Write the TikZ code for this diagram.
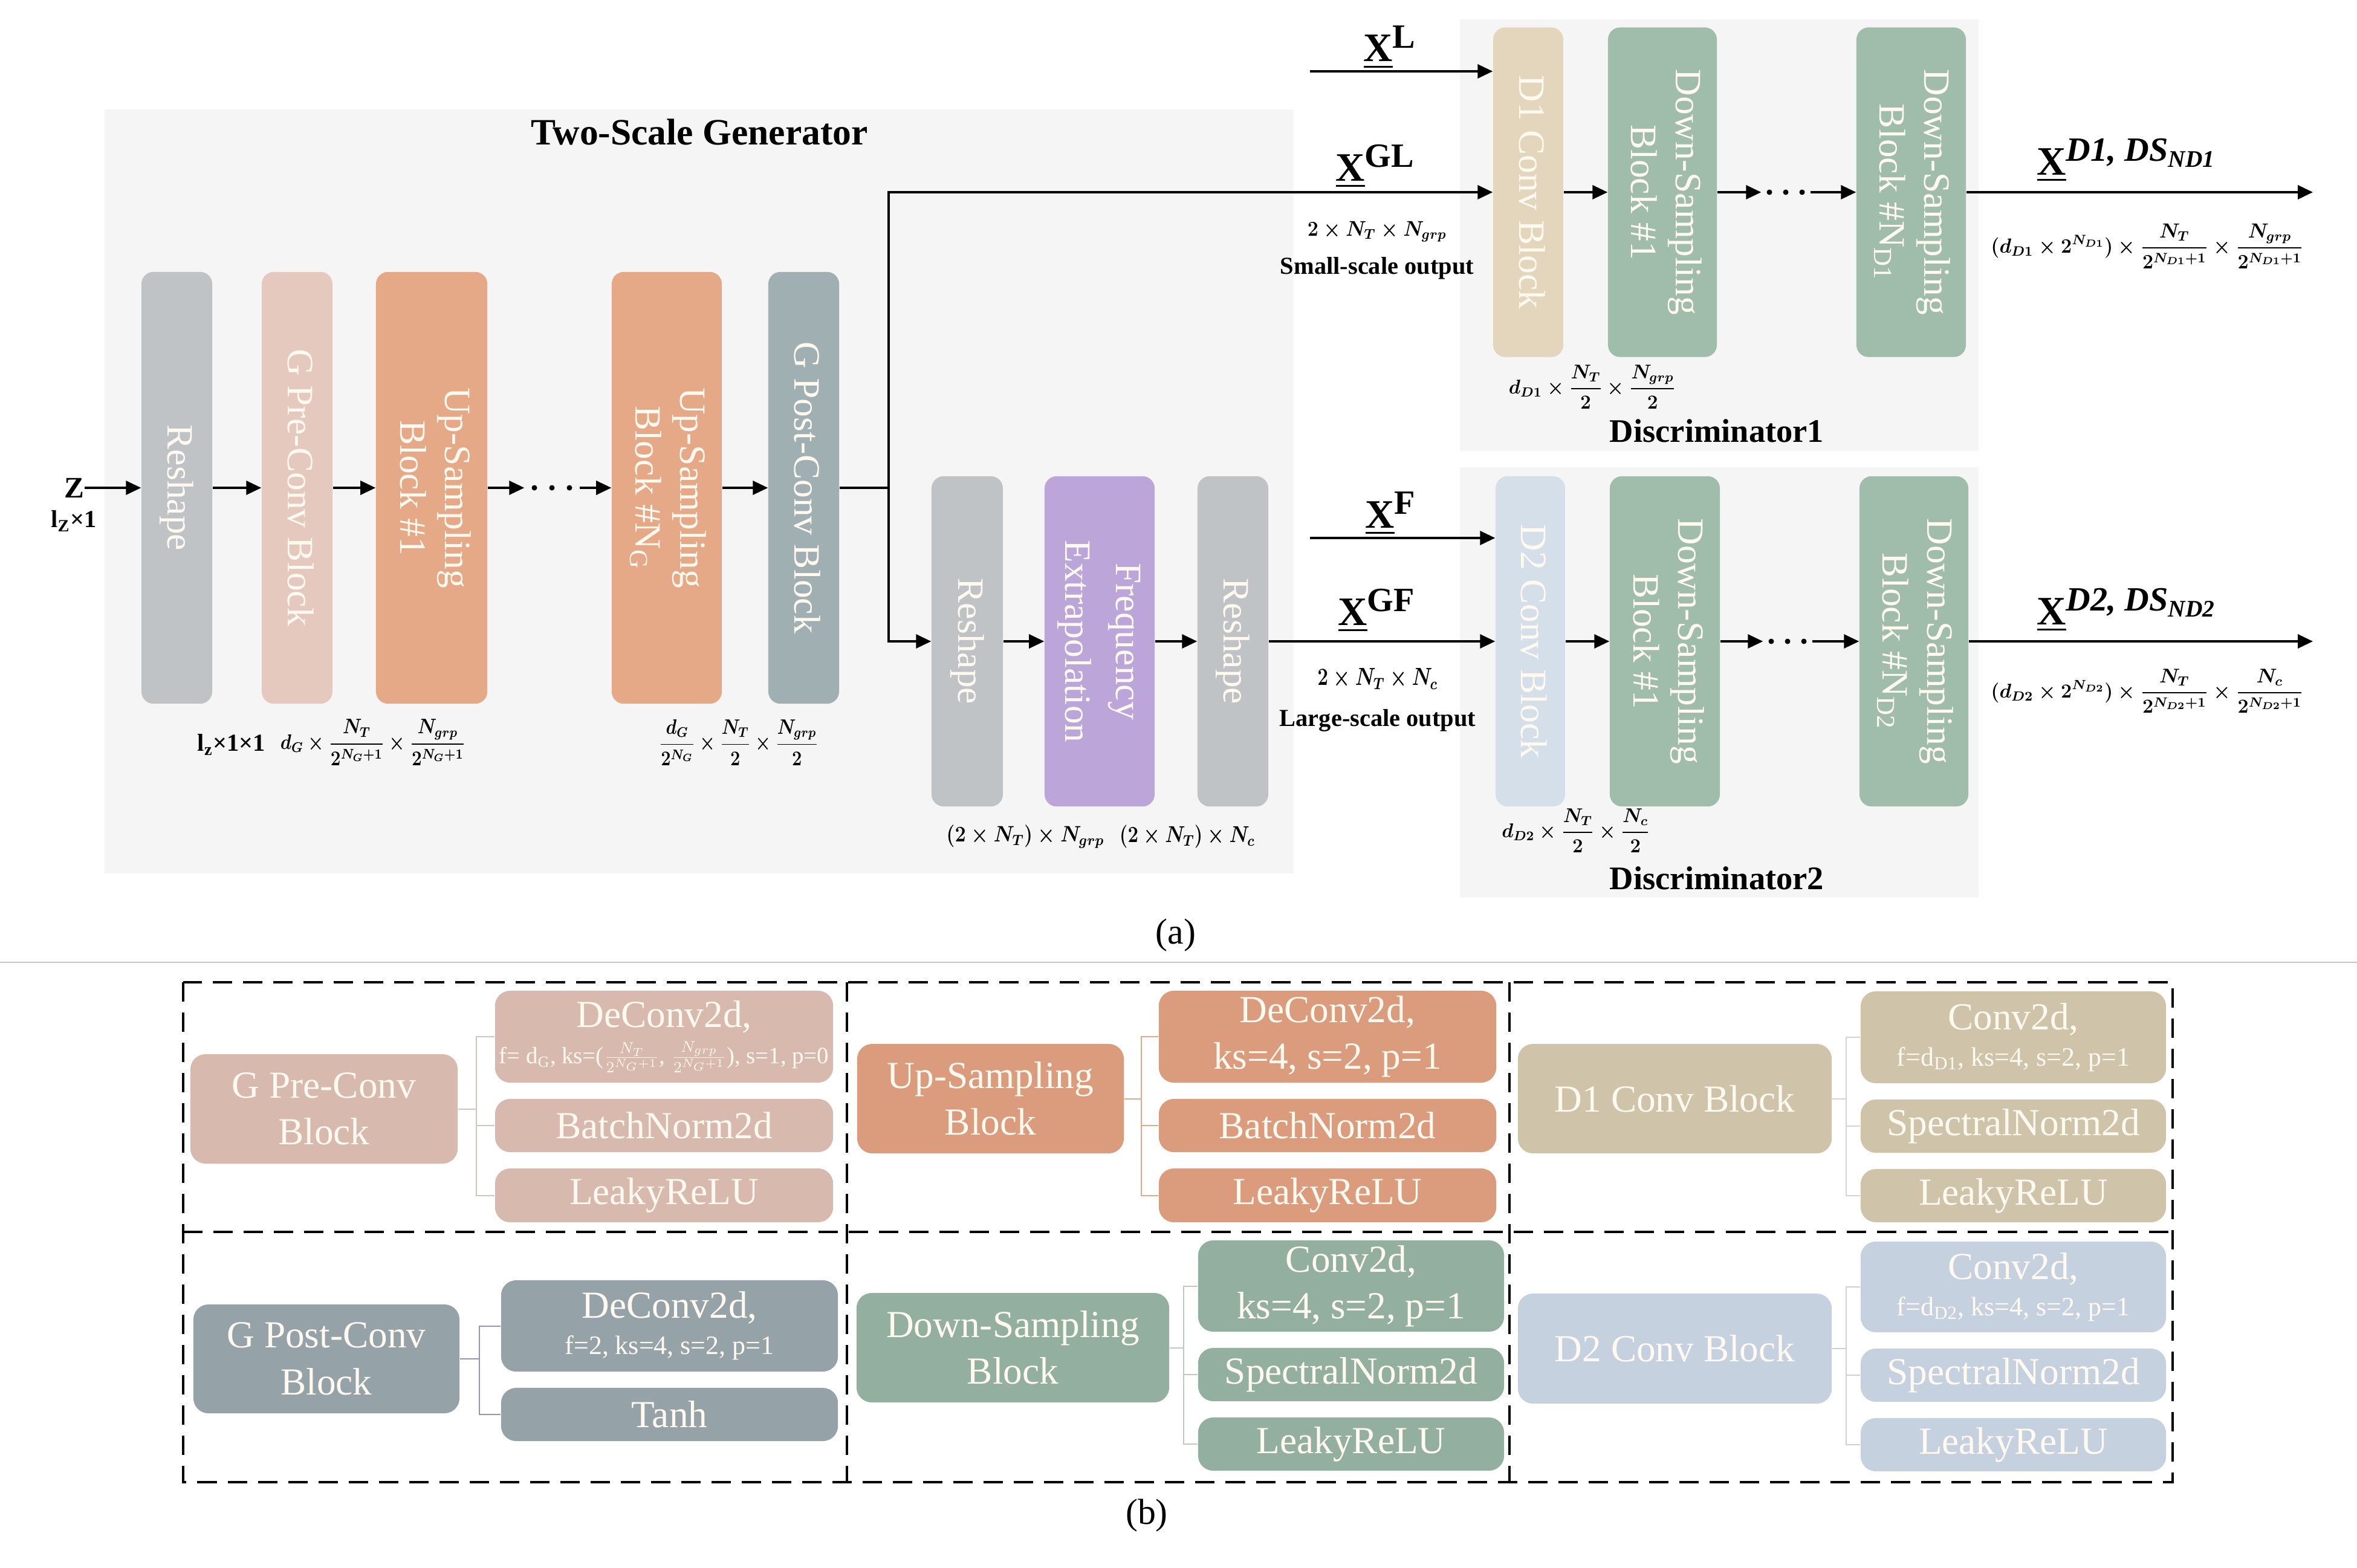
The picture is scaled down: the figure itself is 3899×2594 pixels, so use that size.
\documentclass[tikz,border=0pt]{standalone}
\usepackage{amsmath}
\usepackage{fontspec}
\setmainfont{Liberation Serif}
\usepackage{graphicx}
\usetikzlibrary{arrows.meta}

\definecolor{bgc}{HTML}{F5F5F5}
\definecolor{cRes}{HTML}{BFC3C6}
\definecolor{cPre}{HTML}{E5C8BE}
\definecolor{cUp}{HTML}{E6A987}
\definecolor{cPost}{HTML}{A0AFB2}
\definecolor{cFreq}{HTML}{BBA5D9}
\definecolor{cDa}{HTML}{E3D6BD}
\definecolor{cDS}{HTML}{A0BDAC}
\definecolor{cDb}{HTML}{D4DFEA}
\definecolor{bPre}{HTML}{D8B9AE}
\definecolor{bUp}{HTML}{DA9C7C}
\definecolor{bDa}{HTML}{CFC3A9}
\definecolor{bPost}{HTML}{95A3A9}
\definecolor{bDS}{HTML}{93AF9F}
\definecolor{bDb}{HTML}{C6D1DF}
\definecolor{lPre}{HTML}{D5C3BD}
\definecolor{lUp}{HTML}{E3A889}
\definecolor{lDa}{HTML}{D3D3CF}
\definecolor{lPost}{HTML}{8F95C0}
\definecolor{lDS}{HTML}{BCC8C0}
\definecolor{lDb}{HTML}{CDD0D5}
\definecolor{txtc}{HTML}{FFF9F0}

\newcommand\vtext[1]{\rotatebox{-90}{\begin{tabular}{@{}c@{}}#1\end{tabular}}}
\newcommand\fitm[3]{\resizebox*{#1}{#2}{$\displaystyle #3$}}

\begin{document}
\begin{tikzpicture}[x=0.01cm,y=-0.01cm,
  vbox/.style={rounded corners=0.2cm, inner sep=0pt, text=txtc, font=\fontsize{17.5}{21}\selectfont},
  bbox/.style={rounded corners=0.25cm, inner sep=0pt, text=txtc, align=center, font=\fontsize{18}{22}\selectfont},
  arr/.style={line width=0.035cm, -{Triangle[length=0.25cm,width=0.23cm]}},
  ln/.style={line width=0.035cm},
  lbl/.style={inner sep=0pt, font=\fontsize{12}{14}\selectfont\boldmath},
  tlbl/.style={inner sep=0pt, font=\fontsize{11.5}{14}\selectfont\bfseries},
  xlab/.style={inner sep=0pt, font=\fontsize{19}{19}\selectfont\bfseries\boldmath},
  dotn/.style={inner sep=0pt, minimum height=0.1cm},
  bl/.style={line width=0.02cm},
  dashb/.style={line width=0.035cm, dash pattern=on 0.32cm off 0.18cm},
]
\useasboundingbox (0,0) rectangle (3899,2594);

% ---------- backgrounds ----------
\fill[bgc] (173,181) rectangle (2140,1445);
\fill[bgc] (2415,32) rectangle (3273,746);
\fill[bgc] (2415,773) rectangle (3273,1485);

\node[inner sep=0pt, font=\fontsize{17.5}{20}\selectfont\bfseries, anchor=base] (title) at (1157,239) {Two-Scale Generator};

% ---------- generator top row ----------
\node[vbox, fill=cRes,  minimum width=1.17cm, minimum height=7.14cm] (res1) at (292.5,807) {\vtext{Reshape}};
\node[vbox, fill=cPre,  minimum width=1.17cm, minimum height=7.14cm] (pre)  at (491.5,807) {\vtext{G Pre-Conv Block}};
\node[vbox, fill=cUp,   minimum width=1.84cm, minimum height=7.14cm] (up1)  at (714,807)   {\vtext{Up-Sampling\\Block \#1}};
\node[vbox, fill=cUp,   minimum width=1.82cm, minimum height=7.14cm] (upN)  at (1103,807)  {\vtext{Up-Sampling\\Block \#N\textsubscript{G}}};
\node[vbox, fill=cPost, minimum width=1.17cm, minimum height=7.14cm] (post) at (1329.5,807) {\vtext{G Post-Conv Block}};

% ---------- generator lower branch ----------
\node[vbox, fill=cRes,  minimum width=1.18cm, minimum height=5.46cm] (res2) at (1600,1061) {\vtext{Reshape}};
\node[vbox, fill=cFreq, minimum width=1.82cm, minimum height=5.46cm] (freq) at (1819,1061) {\vtext{Frequency\\[3pt]Extrapolation}};
\node[vbox, fill=cRes,  minimum width=1.17cm, minimum height=5.46cm] (res3) at (2039.5,1061) {\vtext{Reshape}};

% ---------- discriminator 1 ----------
\node[vbox, fill=cDa, minimum width=1.16cm, minimum height=5.45cm] (d1c)  at (2528,318)   {\vtext{D1 Conv Block}};
\node[vbox, fill=cDS, minimum width=1.80cm, minimum height=5.45cm] (ds11) at (2750,318)   {\vtext{Down-Sampling\\Block \#1}};
\node[vbox, fill=cDS, minimum width=1.81cm, minimum height=5.45cm] (ds1N) at (3161.5,318) {\vtext{Down-Sampling\\Block \#N\textsubscript{D1}}};

% ---------- discriminator 2 ----------
\node[vbox, fill=cDb, minimum width=1.15cm, minimum height=5.46cm] (d2c)  at (2531.5,1061) {\vtext{D2 Conv Block}};
\node[vbox, fill=cDS, minimum width=1.82cm, minimum height=5.46cm] (ds21) at (2754,1061)   {\vtext{Down-Sampling\\Block \#1}};
\node[vbox, fill=cDS, minimum width=1.80cm, minimum height=5.46cm] (ds2N) at (3166,1061)   {\vtext{Down-Sampling\\Block \#N\textsubscript{D2}}};

% ---------- dots ----------
\node[dotn, minimum width=0.9cm] (gd) at (913,807) {};
\node[dotn, minimum width=0.8cm] (dd1) at (2954,318) {};
\node[dotn, minimum width=0.8cm] (dd2) at (2957,1061) {};
\foreach \dx in {-29,0,29} \fill ([xshift=\dx*0.01cm]gd.center) circle (0.045cm);
\foreach \dx in {-27,0,27} {
  \fill ([xshift=\dx*0.01cm]dd1.center) circle (0.045cm);
  \fill ([xshift=\dx*0.01cm]dd2.center) circle (0.045cm);
}

% ---------- input / connectors ----------
\node[inner sep=0pt, font=\fontsize{14}{14}\selectfont\bfseries] (z) at (123,807) {Z};
\node[tlbl] (lz) at (122,862) {l\textsubscript{Z}×1};
\draw[arr] (z.east) -- (res1.west);
\draw[arr] (res1.east) -- (pre.west);
\draw[arr] (pre.east) -- (up1.west);
\draw[arr] (up1.east) -- (gd.west);
\draw[arr] (gd.east) -- (upN.west);
\draw[arr] (upN.east) -- (post.west);
\coordinate (br) at (1470,807);
\draw[ln] (post.east) -- (br);
\draw[arr] (br) |- (d1c.west);
\draw[arr] (br) |- (res2.west);
\draw[arr] (res2.east) -- (freq.west);
\draw[arr] (freq.east) -- (res3.west);
\draw[arr] (res3.east) -- (d2c.west);

\coordinate (xl) at (2167,118);
\draw[arr] (xl) -- (xl -| d1c.west);
\coordinate (xf) at (2167,890);
\draw[arr] (xf) -- (xf -| d2c.west);

\draw[arr] (d1c.east) -- (ds11.west);
\draw[arr] (ds11.east) -- (dd1.west);
\draw[arr] (dd1.east) -- (ds1N.west);
\coordinate (o1) at (3826,318);
\draw[arr] (ds1N.east) -- (o1);

\draw[arr] (d2c.east) -- (ds21.west);
\draw[arr] (ds21.east) -- (dd2.west);
\draw[arr] (dd2.east) -- (ds2N.west);
\coordinate (o2) at (3826,1061);
\draw[arr] (ds2N.east) -- (o2);

% ---------- X labels ----------
\node[xlab, anchor=base west] (lxl)  at (2255,102)  {\underline{X}\raisebox{0.33em}{\fontsize{16}{16}\selectfont L}};
\node[xlab, anchor=base west] (lxgl) at (2209,299)  {\underline{X}\raisebox{0.33em}{\fontsize{16}{16}\selectfont GL}};
\node[xlab, anchor=base west] (lxf)  at (2258,873)  {\underline{X}\raisebox{0.33em}{\fontsize{16}{16}\selectfont F}};
\node[xlab, anchor=base west] (lxgf) at (2213,1034) {\underline{X}\raisebox{0.33em}{\fontsize{16}{16}\selectfont GF}};
\node[xlab, anchor=base west] (lxo1) at (3369,289)  {\underline{X}\raisebox{0.33em}{\fontsize{16}{16}\selectfont\itshape D1, DS\textsubscript{ND1}}};
\node[xlab, anchor=base west] (lxo2) at (3369,1033) {\underline{X}\raisebox{0.33em}{\fontsize{16}{16}\selectfont\itshape D2, DS\textsubscript{ND2}}};

% ---------- dimension labels ----------
\node[tlbl] (l1) at (383,1232) {l\textsubscript{z}×1×1};
\node[lbl] (l2) at (617,1228) {\fitm{3.06cm}{0.76cm}{d_G\times\frac{N_T}{2^{N_G+1}}\times\frac{N_{grp}}{2^{N_G+1}}}};
\node[lbl] (l3) at (1222,1228) {\fitm{2.63cm}{0.76cm}{\frac{d_G}{2^{N_G}}\times\frac{N_T}{2}\times\frac{N_{grp}}{2}}};
\node[lbl] (l4) at (1696,1384) {\fitm{2.61cm}{0.38cm}{(2\times N_T)\times N_{grp}}};
\node[lbl] (l5) at (1964,1384) {\fitm{2.24cm}{0.38cm}{(2\times N_T)\times N_c}};
\node[lbl] (l6) at (2278,383) {\fitm{2.30cm}{0.34cm}{2\times N_T\times N_{grp}}};
\node[tlbl] (l7) at (2278,444) {Small-scale output};
\node[lbl] (l8) at (2279,1123) {\fitm{1.99cm}{0.34cm}{2\times N_T\times N_c}};
\node[tlbl] (l9) at (2279,1192) {Large-scale output};
\node[lbl] (l10) at (2634,640) {\fitm{2.76cm}{0.72cm}{d_{D1}\times\frac{N_T}{2}\times\frac{N_{grp}}{2}}};
\node[lbl] (l11) at (2607,1374) {\fitm{2.45cm}{0.72cm}{d_{D2}\times\frac{N_T}{2}\times\frac{N_c}{2}}};
\node[lbl] (l12) at (3552,407) {\fitm{5.17cm}{0.74cm}{(d_{D1}\times 2^{N_{D1}})\times\frac{N_T}{2^{N_{D1}+1}}\times\frac{N_{grp}}{2^{N_{D1}+1}}}};
\node[lbl] (l13) at (3552,1143) {\fitm{5.17cm}{0.72cm}{(d_{D2}\times 2^{N_{D2}})\times\frac{N_T}{2^{N_{D2}+1}}\times\frac{N_c}{2^{N_{D2}+1}}}};
\node[inner sep=0pt, font=\fontsize{15.5}{18}\selectfont\bfseries, anchor=base] (disc1) at (2840,731) {Discriminator1};
\node[inner sep=0pt, font=\fontsize{15.5}{18}\selectfont\bfseries, anchor=base] (disc2) at (2840,1471) {Discriminator2};

\node[inner sep=0pt, font=\fontsize{17}{20}\selectfont] (capa) at (1945,1547) {(a)};
\draw[gray!45, line width=0.02cm] (0,1592) -- (3899,1592);

% ---------- part (b) ----------
\draw[dashb] (303,1625) rectangle (3594,2452);
\draw[dashb] (303,2038) -- (3594,2038);
\draw[dashb] (1401,1625) -- (1401,2452);
\draw[dashb] (2497,1625) -- (2497,2452);

% cell 1: G Pre-Conv
\node[bbox, fill=bPre, minimum width=4.42cm, minimum height=1.81cm] (bpre) at (536,1834.5) {G Pre-Conv\\Block};
\node[bbox, fill=bPre, minimum width=5.59cm, minimum height=1.52cm] (bpre1) at (1098.5,1715) {DeConv2d,\\[-5pt]\resizebox{5.45cm}{!}{\fontsize{12}{14}\selectfont f= d\textsubscript{G}, ks=($\frac{N_T}{2^{N_G+1}}$, $\frac{N_{grp}}{2^{N_G+1}}$), s=1, p=0}};
\node[bbox, fill=bPre, minimum width=5.59cm, minimum height=0.88cm] (bpre2) at (1098.5,1862) {BatchNorm2d};
\node[bbox, fill=bPre, minimum width=5.59cm, minimum height=0.89cm] (bpre3) at (1098.5,1977.5) {LeakyReLU};
\coordinate (j1) at (788,1834.5);
\draw[bl, lPre] (bpre.east) -- (j1);
\draw[bl, lPre] (bpre1.west) -- (bpre1.west -| j1) -- (bpre3.west -| j1) -- (bpre3.west);
\draw[bl, lPre] (bpre2.west -| j1) -- (bpre2.west);

% cell 2: Up-Sampling
\node[bbox, fill=bUp, minimum width=4.41cm, minimum height=1.81cm] (bup) at (1638.5,1817.5) {Up-Sampling\\Block};
\node[bbox, fill=bUp, minimum width=5.58cm, minimum height=1.52cm] (bup1) at (2196,1715) {DeConv2d,\\ks=4, s=2, p=1};
\node[bbox, fill=bUp, minimum width=5.58cm, minimum height=0.88cm] (bup2) at (2196,1862) {BatchNorm2d};
\node[bbox, fill=bUp, minimum width=5.58cm, minimum height=0.89cm] (bup3) at (2196,1977.5) {LeakyReLU};
\coordinate (j2) at (1888,1817.5);
\draw[bl, lUp] (bup.east) -- (j2);
\draw[bl, lUp] (bup1.west) -- (bup1.west -| j2) -- (bup3.west -| j2) -- (bup3.west);
\draw[bl, lUp] (bup2.west -| j2) -- (bup2.west);

% cell 3: D1 Conv
\node[bbox, fill=bDa, minimum width=5.19cm, minimum height=1.81cm] (bda) at (2770.5,1817.5) {D1 Conv Block};
\node[bbox, fill=bDa, minimum width=5.05cm, minimum height=1.52cm] (bda1) at (3330.5,1716) {Conv2d,\\[-5pt]{\fontsize{12.5}{14}\selectfont f=d\textsubscript{D1}, ks=4, s=2, p=1}};
\node[bbox, fill=bDa, minimum width=5.05cm, minimum height=0.88cm] (bda2) at (3330.5,1863) {SpectralNorm2d};
\node[bbox, fill=bDa, minimum width=5.05cm, minimum height=0.88cm] (bda3) at (3330.5,1978) {LeakyReLU};
\coordinate (j3) at (3054,1817.5);
\draw[bl, lDa] (bda.east) -- (j3);
\draw[bl, lDa] (bda1.west) -- (bda1.west -| j3) -- (bda3.west -| j3) -- (bda3.west);
\draw[bl, lDa] (bda2.west -| j3) -- (bda2.west);

% cell 4: G Post-Conv
\node[bbox, fill=bPost, minimum width=4.40cm, minimum height=1.80cm] (bpost) at (540,2248) {G Post-Conv\\Block};
\node[bbox, fill=bPost, minimum width=5.57cm, minimum height=1.51cm] (bpost1) at (1107.5,2193.5) {DeConv2d,\\[-5pt]{\fontsize{12.5}{14}\selectfont f=2, ks=4, s=2, p=1}};
\node[bbox, fill=bPost, minimum width=5.57cm, minimum height=0.88cm] (bpost2) at (1107.5,2340) {Tanh};
\coordinate (j4) at (793,2248);
\draw[bl, lPost] (bpost.east) -- (j4);
\draw[bl, lPost] (bpost1.west) -- (bpost1.west -| j4) -- (bpost2.west -| j4) -- (bpost2.west);

% cell 5: Down-Sampling
\node[bbox, fill=bDS, minimum width=5.17cm, minimum height=1.81cm] (bds) at (1675.5,2229.5) {Down-Sampling\\Block};
\node[bbox, fill=bDS, minimum width=5.06cm, minimum height=1.51cm] (bds1) at (2235,2127.5) {Conv2d,\\ks=4, s=2, p=1};
\node[bbox, fill=bDS, minimum width=5.06cm, minimum height=0.88cm] (bds2) at (2235,2274) {SpectralNorm2d};
\node[bbox, fill=bDS, minimum width=5.06cm, minimum height=0.88cm] (bds3) at (2235,2389) {LeakyReLU};
\coordinate (j5) at (1958,2229.5);
\draw[bl, lDS] (bds.east) -- (j5);
\draw[bl, lDS] (bds1.west) -- (bds1.west -| j5) -- (bds3.west -| j5) -- (bds3.west);
\draw[bl, lDS] (bds2.west -| j5) -- (bds2.west);

% cell 6: D2 Conv
\node[bbox, fill=bDb, minimum width=5.19cm, minimum height=1.82cm] (bdb) at (2770.5,2231) {D2 Conv Block};
\node[bbox, fill=bDb, minimum width=5.05cm, minimum height=1.50cm] (bdb1) at (3330.5,2129) {Conv2d,\\[-5pt]{\fontsize{12.5}{14}\selectfont f=d\textsubscript{D2}, ks=4, s=2, p=1}};
\node[bbox, fill=bDb, minimum width=5.05cm, minimum height=0.88cm] (bdb2) at (3330.5,2275) {SpectralNorm2d};
\node[bbox, fill=bDb, minimum width=5.05cm, minimum height=0.88cm] (bdb3) at (3330.5,2390) {LeakyReLU};
\coordinate (j6) at (3054,2231);
\draw[bl, lDb] (bdb.east) -- (j6);
\draw[bl, lDb] (bdb1.west) -- (bdb1.west -| j6) -- (bdb3.west -| j6) -- (bdb3.west);
\draw[bl, lDb] (bdb2.west -| j6) -- (bdb2.west);

\node[inner sep=0pt, font=\fontsize{17}{20}\selectfont] (capb) at (1897,2507) {(b)};
\end{tikzpicture}
\end{document}
